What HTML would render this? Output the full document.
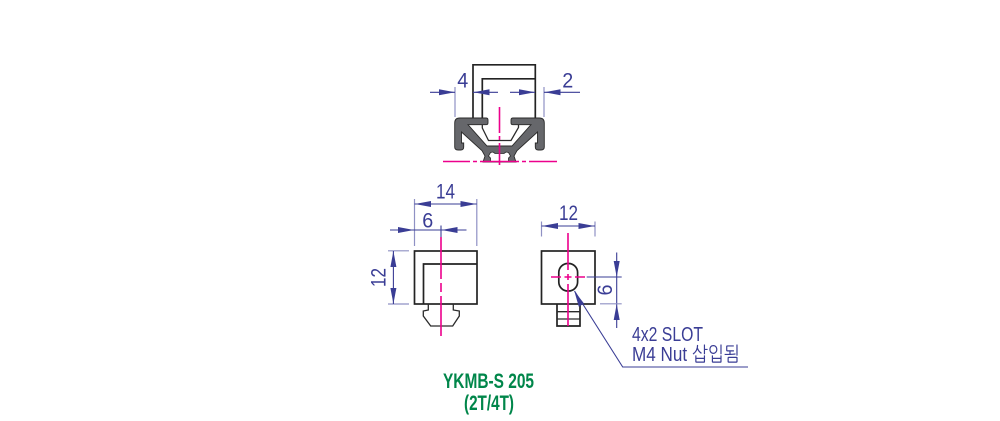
<!DOCTYPE html>
<html><head><meta charset="utf-8"><style>
html,body{margin:0;padding:0;background:#fff;width:1000px;height:421px;overflow:hidden}
svg{display:block}
text{font-family:"Liberation Sans","NanumGothic","Noto Sans CJK KR",sans-serif;fill:#3a3d95}
.d{stroke:#3a3d95;stroke-width:1.1;fill:none}
.e{stroke:#8f91c4;stroke-width:1.2;fill:none}
.k{stroke:#232323;stroke-width:1.7;fill:none}
.k2{stroke:#2b2b2b;stroke-width:1.3;fill:none}
.m{stroke:#ec008c;stroke-width:1.6;fill:none}
.a{fill:#3a3d95;stroke:none}
.g{font-weight:bold;fill:#00864a}
</style></head><body>
<svg width="1000" height="421" viewBox="0 0 1000 421" xmlns="http://www.w3.org/2000/svg">

<!-- top view: block -->
<path class="k" d="M473 118V64.8H535.3V118"/>
<path class="k" d="M482.3 118V78.8H535.3"/>

<!-- profile -->
<path d="M454.7 123Q454.7 118 459.7 118H486Q488 118 488 120V122.7Q488 124.7 486 124.7H468L487 146H512L531 124.7H513Q511 124.7 511 122.7V120Q511 118 513 118H539.3Q544.3 118 544.3 123V147Q544.3 150 541 150H538.3Q535.3 150 535.3 147V143H537.5V132L517 150.7L514 156L516 162H483L485 156L482 150.7L461.5 132V143H463.7V147Q463.7 150 460.7 150H458Q454.7 150 454.7 147Z" fill="#66676b" stroke="#2a2a2a" stroke-width="0.9"/>
<path d="M490.5 162V158L488.5 156L490.5 152.5L493 152L495 153.5H504L506 152L508.5 152.5L510.5 156L508.5 158V162Z" fill="#fff" stroke="#2a2a2a" stroke-width="0.8"/>
<path class="k2" d="M482.3 124.7V128L488.5 140.5H511L518.5 127.5V124.7"/>

<!-- top view centre lines -->
<path class="m" d="M499.5 107V133M499.5 136V140M499.5 143V165" />
<path class="m" d="M443 161.5H470M473 161.5H477M480 161.5H519M522 161.5H526M529 161.5H557"/>

<!-- top dims -->
<path class="e" d="M455 87V117"/>
<path class="e" d="M544 87V117"/>
<path class="d" d="M430 92.3H455M473 92.3H498M510 92.3H535M544 92.3H580"/>
<path class="a" d="M455 92.3L439 89.3V95.3Z"/>
<path class="a" d="M473.5 92.3L489.5 89.3V95.3Z"/>
<path class="a" d="M535 92.3L519 89.3V95.3Z"/>
<path class="a" d="M544.5 92.3L560.5 89.3V95.3Z"/>
<text x="462.8" y="87.5" font-size="21" text-anchor="middle" textLength="11" lengthAdjust="spacingAndGlyphs">4</text>
<text x="567.8" y="87.5" font-size="21" text-anchor="middle" textLength="11" lengthAdjust="spacingAndGlyphs">2</text>

<!-- left view -->
<rect class="k" x="414.5" y="251" width="62.5" height="53"/>
<path class="k" d="M423.5 304V264H477"/>
<path class="k2" d="M428.3 304V310L423.3 311V316L430.7 326H452.7L459.3 316V311L453.3 310V304"/>
<path class="m" d="M441 237V279M441 283V292M441 296V336"/>
<path class="e" d="M414.5 199V246M476.8 199V246"/>
<path class="d" d="M414.5 204H476.8"/>
<path class="a" d="M414.8 204L431 201V207Z"/>
<path class="a" d="M476.5 204L460.5 201V207Z"/>
<text x="445.5" y="198.5" font-size="21" text-anchor="middle" textLength="19" lengthAdjust="spacingAndGlyphs">14</text>
<path class="d" d="M390 230H466.5M441 225.5V237"/>
<path class="a" d="M414 230L398 227V233Z"/>
<path class="a" d="M441.5 230L457.5 227V233Z"/>
<text x="427.8" y="227.5" font-size="21" text-anchor="middle" textLength="11" lengthAdjust="spacingAndGlyphs">6</text>
<path class="e" d="M388 250.8H409M388 304H409"/>
<path class="d" d="M393.4 251V304"/>
<path class="a" d="M393.4 251.2L390.4 267H396.4Z"/>
<path class="a" d="M393.4 303.8L390.4 288H396.4Z"/>
<text transform="translate(385.5,277.5) rotate(-90)" font-size="21" text-anchor="middle" textLength="19" lengthAdjust="spacingAndGlyphs">12</text>

<!-- right view -->
<rect class="k" x="541.5" y="251" width="53.5" height="53"/>
<rect class="k" x="558.8" y="263.5" width="18.8" height="27.5" rx="9" ry="9"/>
<path class="k" d="M557 304V326H580V304"/>
<path class="k2" d="M557 311.7H580M557 319H580"/>
<path class="m" d="M568 233V270M568 274V280M568 284V326"/>
<path class="m" d="M551 277H561M564.5 277H571.5M575 277H585"/>
<path class="e" d="M541.5 221.5V236.5M595 221.5V236.5"/>
<path class="d" d="M541.5 226H595"/>
<path class="a" d="M541.8 226L558 223V229Z"/>
<path class="a" d="M594.7 226L578.5 223V229Z"/>
<text x="568.5" y="220" font-size="21" text-anchor="middle" textLength="19" lengthAdjust="spacingAndGlyphs">12</text>
<path class="d" d="M586.7 277H621.7M616.7 252.5V328"/>
<path class="e" d="M600 303.8H621.7"/>
<path class="a" d="M616.7 277L613.7 261H619.7Z"/>
<path class="a" d="M616.7 304L613.7 320H619.7Z"/>
<text transform="translate(612,290) rotate(-90)" font-size="21" text-anchor="middle" textLength="11" lengthAdjust="spacingAndGlyphs">6</text>

<!-- leader -->
<path class="d" d="M574.5 291L622.7 367H748"/>
<path class="a" d="M574.3 291L584 303.5L578.8 306.8Z"/>
<text x="632" y="341" font-size="20" textLength="71" lengthAdjust="spacingAndGlyphs">4x2 SLOT</text>
<text x="632" y="361" font-size="20" textLength="108" lengthAdjust="spacingAndGlyphs">M4 Nut 삽입됨</text>

<!-- title -->
<text class="g" x="443" y="388" font-size="21" textLength="91" lengthAdjust="spacingAndGlyphs">YKMB-S 205</text>
<text class="g" x="464" y="410" font-size="21" textLength="50" lengthAdjust="spacingAndGlyphs">(2T/4T)</text>
</svg>
</body></html>
